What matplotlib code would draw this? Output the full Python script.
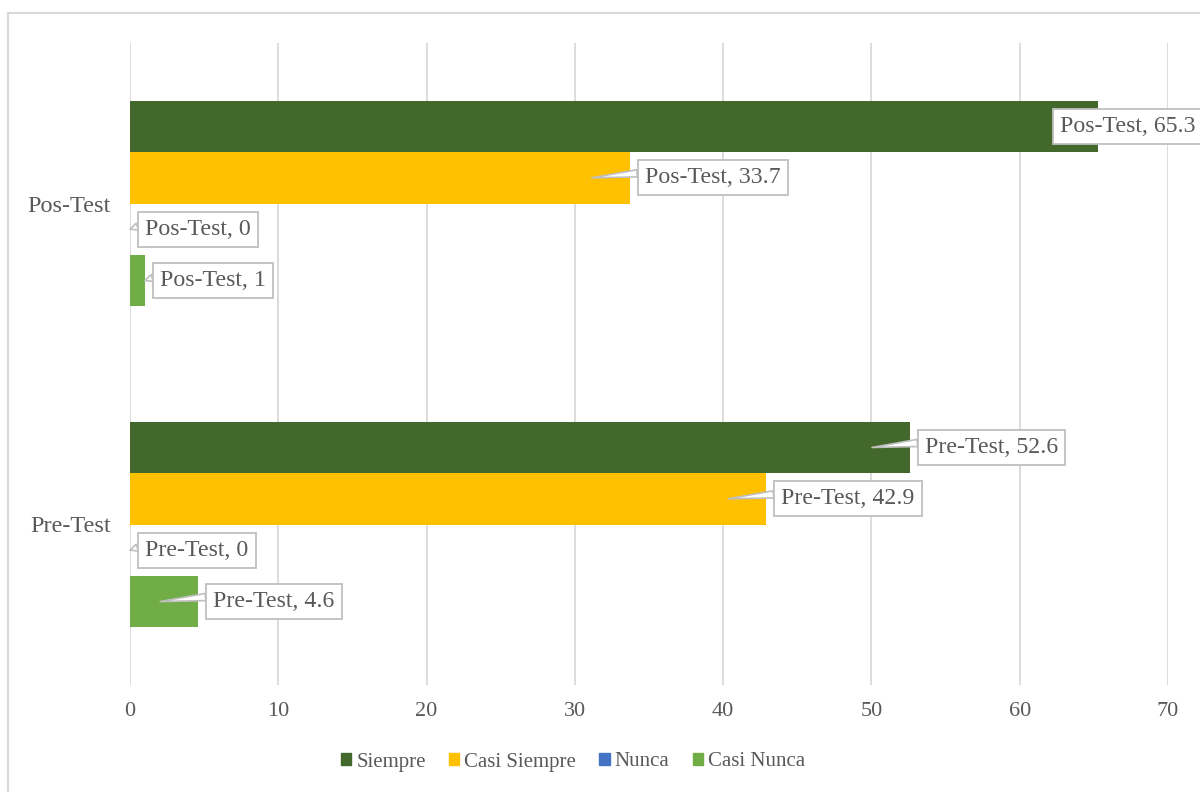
import matplotlib
matplotlib.use("Agg")
import matplotlib.pyplot as plt
from matplotlib.patches import Rectangle, Patch
import numpy as np

plt.rcParams['font.family'] = ['Liberation Serif', 'DejaVu Serif']

categories = ['Pre-Test', 'Pos-Test']
series_names = ['Siempre', 'Casi Siempre', 'Nunca', 'Casi Nunca']
siempre = [52.6, 65.3]
casi_siempre = [42.9, 33.7]
nunca = [0, 0]
casi_nunca = [4.6, 1]
colors = ['#43682B', '#FFC000', '#4472C4', '#70AD47']
xticks = [0, 10, 20, 30, 40, 50, 60, 70]

values = [siempre, casi_siempre, nunca, casi_nunca]
offsets = [0.24, 0.08, -0.08, -0.24]
bar_h = 0.16
txt_col = '#595959'

fig = plt.figure(figsize=(12, 7.92), dpi=100)
ax = fig.add_axes([130/1200, 1-685/792, 1038/1200, 642/792])
ax.set_xlim(0, 70)
ax.set_ylim(0, 2)
yc = np.arange(len(categories)) + 0.5

for name, vals, col, off in zip(series_names, values, colors, offsets):
    ax.barh(yc + off, vals, height=bar_h, color=col, label=name, zorder=2)

ax.set_xticks(xticks)
ax.set_yticks(yc)
ax.set_yticklabels(categories)
ax.grid(axis='x', color='#D9D9D9', linewidth=1.3, zorder=0)
ax.set_axisbelow(True)
for s in ax.spines.values():
    s.set_visible(False)
ax.tick_params(axis='x', length=0, pad=12.5, labelsize=16, labelcolor=txt_col)
ax.tick_params(axis='y', length=0, pad=14, labelsize=17.5, labelcolor=txt_col)

fig.canvas.draw()
fs = 17.2
pad = 0.3
pad_px = pad * fs * 100 / 72
for name, vals, off in zip(series_names, values, offsets):
    for ci, cat in enumerate(categories):
        v = vals[ci]
        y = yc[ci] + off
        end_px = ax.transData.transform((v, y))
        label = f"{cat}, {v:g}"
        bbox = dict(boxstyle=f'square,pad={pad}', fc='white', ec='#BFBFBF', lw=1.3)
        if end_px[0] + 8 + 150 > 1200:
            tip_px = end_px.copy()
            left = end_px[0] - 45
            arrow = None
        else:
            tip_px = end_px.copy()
            if end_px[0] - 38 > ax.transData.transform((0, y))[0] + 5:
                tip_px[0] = end_px[0] - 38
            left = end_px[0] + 8
            arrow = dict(arrowstyle='wedge,tail_width=0.3,shrink_factor=0.5',
                         fc='white', ec='#BFBFBF', lw=1.2, relpos=(0, 0.75),
                         shrinkA=0, shrinkB=0)
        tip = ax.transData.inverted().transform(tip_px)
        ax.annotate(label, xy=tip, xycoords='data',
                    xytext=(left + pad_px - tip_px[0], 0), textcoords='offset pixels',
                    ha='left', va='center', fontsize=fs, color=txt_col,
                    bbox=bbox, arrowprops=arrow, zorder=5, annotation_clip=False)

handles = [Patch(color=c, label=n) for n, c in zip(series_names, colors)]
leg = fig.legend(handles=handles, loc='center', bbox_to_anchor=(573/1200, 1-762/792),
                 ncol=4, frameon=False, fontsize=15, handlelength=0.5, handleheight=0.5,
                 handletextpad=0.25, columnspacing=1.1)
for t in leg.get_texts():
    t.set_color(txt_col)

fig.add_artist(Rectangle((8/1200, -0.1), 1.2, 1 - 13/792 + 0.1, transform=fig.transFigure,
                         fill=False, ec='#D9D9D9', lw=1.5))

fig.savefig('out.png', dpi=100)
